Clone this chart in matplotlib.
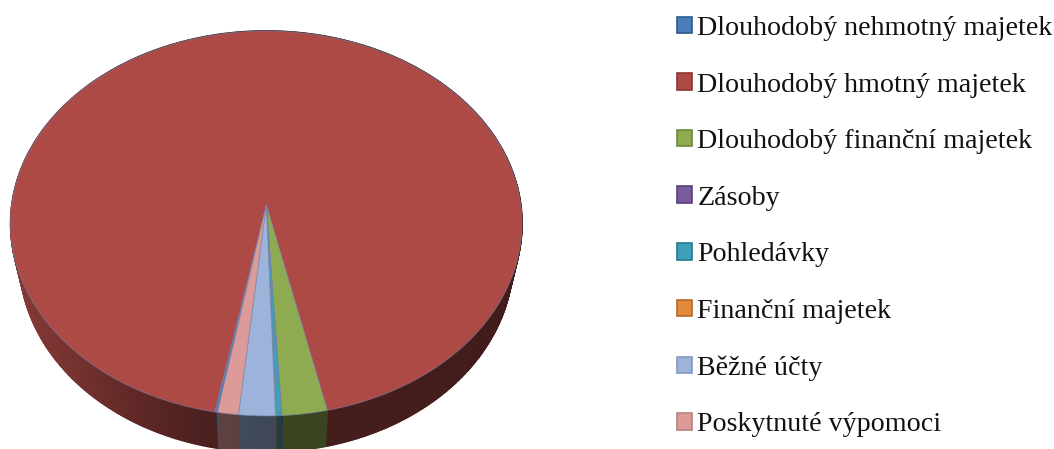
"""
Asset structure shown as a 3D looking pie, tilted by a small perspective.
"""
import numpy as np
import matplotlib
matplotlib.use('Agg')
import matplotlib.pyplot as plt
from matplotlib.collections import PolyCollection
from matplotlib.colors import to_rgb
from matplotlib.patches import Patch
from matplotlib.transforms import Transform

labels = ['Dlouhodobý nehmotný majetek', 'Dlouhodobý hmotný majetek',
          'Dlouhodobý finanční majetek', 'Zásoby', 'Pohledávky',
          'Finanční majetek', 'Běžné účty', 'Poskytnuté výpomoci']
values = [0.15, 93.55, 2.6, 0.03, 0.3, 0.03, 2.1, 1.2]
colors = ['#4a7ebb', '#ad4a46', '#8fab52', '#7a5c9e', '#3f9fb8',
          '#e08a3c', '#9db3da', '#dc9a98']
edges = ['#2c5a8f', '#8c3532', '#6b8a3a', '#5a3f7c', '#257a90',
         '#b56a28', '#8299c2', '#b98080']

# pie geometry in pixels
apex = (266.3, 205.0)
C, A, k = 254.5, 190.7, 0.096
depth = 36.0


class Tilt(Transform):
    input_dims = output_dims = 2

    def transform_non_affine(self, xy):
        xy = np.asarray(xy, float)
        w = 1 + k * xy[:, 1]
        return np.column_stack((apex[0] + C * xy[:, 0] / w,
                                apex[1] - A * xy[:, 1] / w))


fig = plt.figure(figsize=(10.54, 4.49), dpi=100)
ax = fig.add_axes([0, 0, 1, 1])

wedges, _ = ax.pie(values, colors=colors, startangle=260.0, counterclock=False,
                   wedgeprops=dict(linewidth=0.6))
ax.set_aspect('auto')
ax.set_xlim(0, 1054)
ax.set_ylim(449, 0)
ax.axis('off')

tilt = Tilt()
for w in wedges:
    w.set_transform(tilt + ax.transData)
    w.set_edgecolor((0.45, 0.5, 0.65, 0.7))
    w.set_zorder(3)


def wall_shade(x):
    # left side of the rim catches the light, the right one is almost flat
    return np.interp(x, [15, 60, 130, 200, 266, 330, 515],
                     [0.78, 0.70, 0.56, 0.44, 0.40, 0.40, 0.38])


polys, poly_colors = [], []
for w, c in zip(wedges, colors):
    t1, t2 = sorted((w.theta1, w.theta2))
    n = max(2, int((t2 - t1) / 0.5))
    th = np.radians(np.linspace(t1, t2, n))
    top = tilt.transform_non_affine(np.column_stack((np.cos(th), np.sin(th))))
    low = top + [0, depth]
    low[:, 0] = apex[0] + (low[:, 0] - apex[0]) * 0.965
    for i in range(n - 1):
        polys.append([top[i], top[i + 1], low[i + 1], low[i]])
        xm = 0.5 * (top[i, 0] + top[i + 1, 0])
        poly_colors.append(np.array(to_rgb(c)) * wall_shade(xm))

walls = PolyCollection(polys, facecolors=poly_colors, edgecolors=poly_colors,
                       linewidths=1.2, zorder=2)
ax.add_collection(walls)

handles = [Patch(facecolor=c, edgecolor=e, linewidth=1.2)
           for c, e in zip(colors, edges)]
fig.legend(handles, labels, loc='upper left', bbox_to_anchor=(677 / 1054, 1 - 16 / 449),
           frameon=False, borderpad=0, borderaxespad=0, handlelength=0.53,
           handleheight=0.53, handletextpad=0.2, labelspacing=1.125,
           prop=dict(family='Liberation Serif', size=20.2), labelcolor='#111111')

fig.savefig('out.png', dpi=100)
